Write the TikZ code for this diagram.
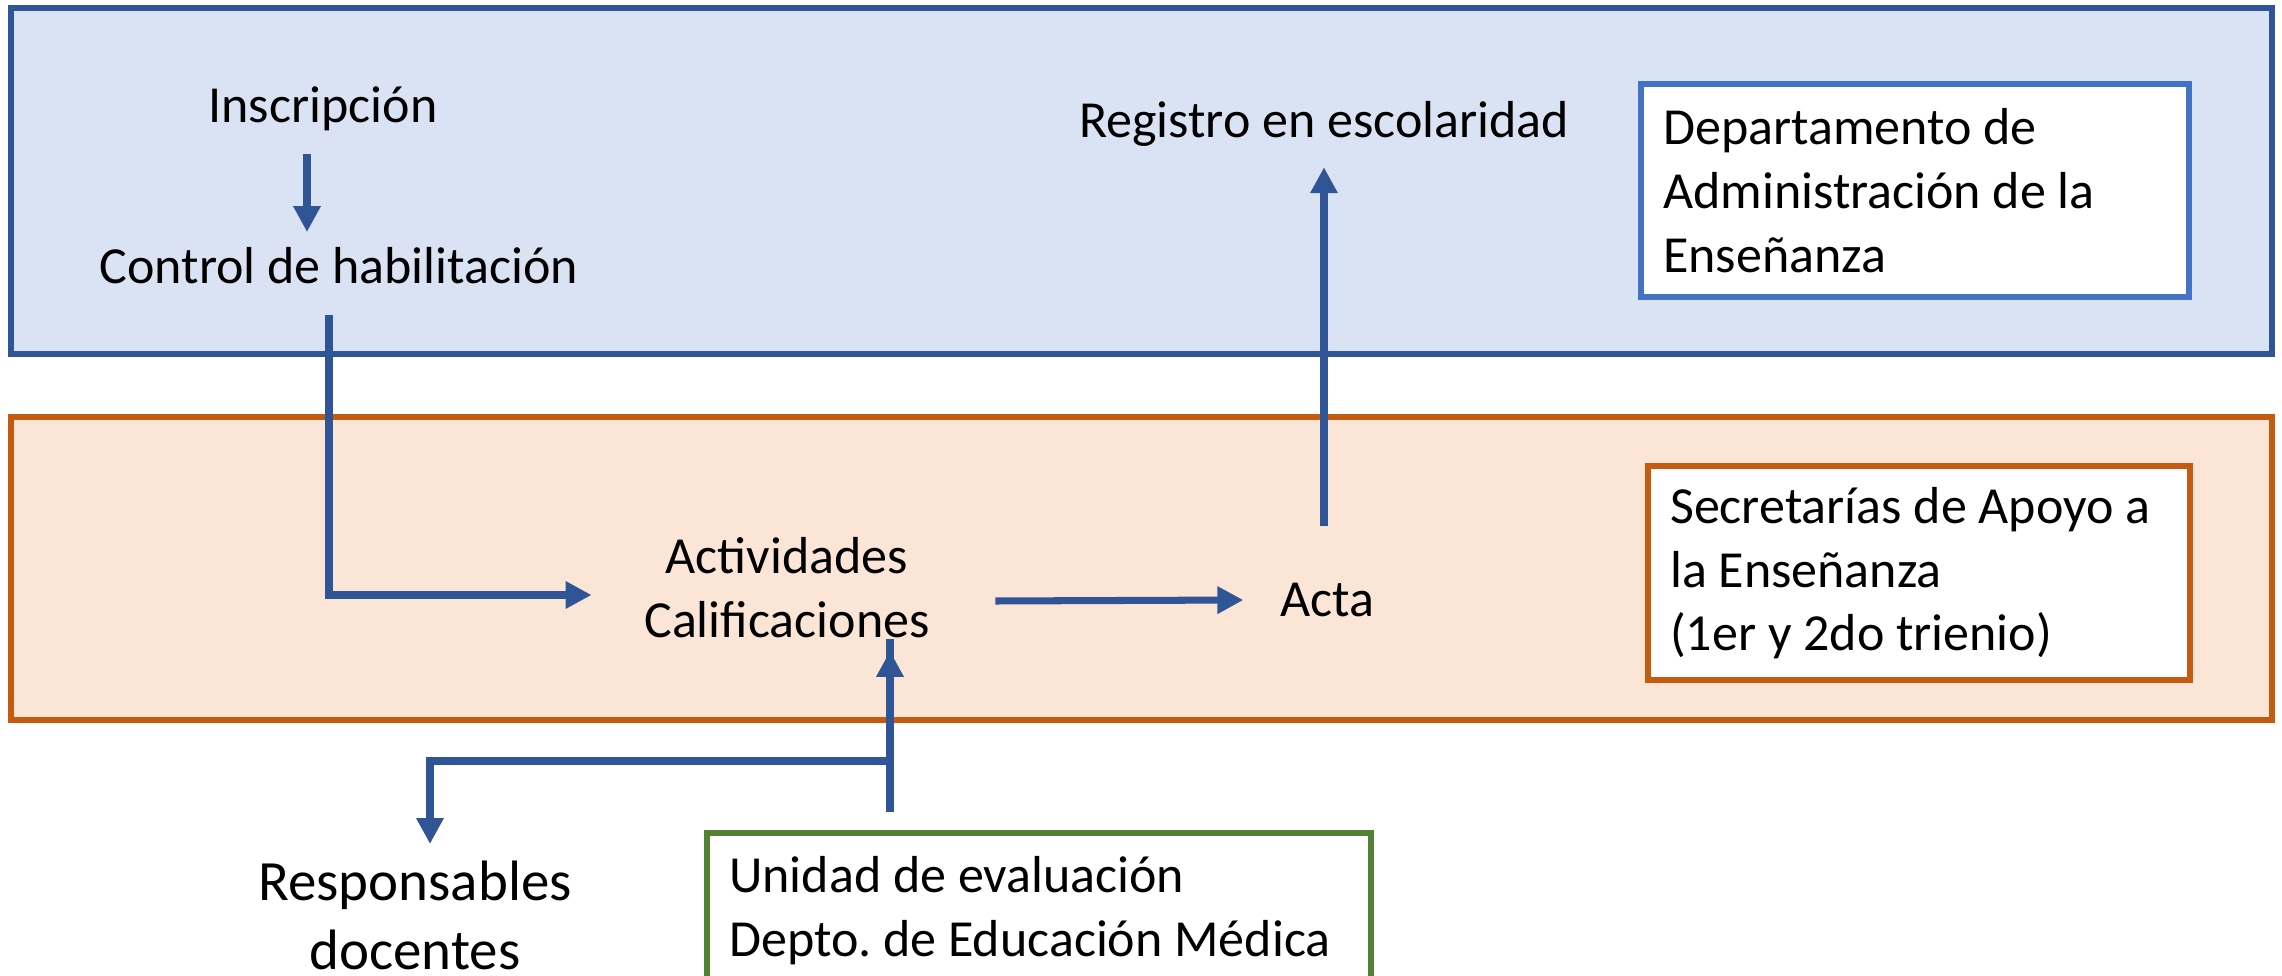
\documentclass[tikz,border=0pt]{standalone}
\usepackage{fontspec}
\setmainfont{Carlito}
\usetikzlibrary{arrows.meta}
\definecolor{azul}{HTML}{2F5597}
\definecolor{azulclaro}{HTML}{DAE3F3}
\definecolor{azulmedio}{HTML}{4472C4}
\definecolor{naranja}{HTML}{C55A11}
\definecolor{naranjaclaro}{HTML}{FBE5D6}
\definecolor{verde}{HTML}{548235}
\frenchspacing

\begin{document}
\begin{tikzpicture}[
  txt/.style={font=\fontsize{14.8}{18.2}\selectfont, align=center, inner sep=0},
  caja/.style={txt, draw, line width=1.8pt, fill=white, align=flush left, anchor=north west, inner xsep=2.2mm},
  flecha/.style={azul, line width=2pt, -{Triangle[length=2.6mm,width=2.6mm]}},
  linea/.style={azul, line width=2pt}
]
\useasboundingbox (0,0) rectangle (22.82,-9.76);
% franjas
\draw[azul, line width=1.9pt, fill=azulclaro] (0.11,-0.08) rectangle (22.72,-3.54);
\draw[naranja, line width=1.9pt, fill=naranjaclaro] (0.11,-4.17) rectangle (22.72,-7.20);
% recuadros
\node[caja, draw=azulmedio, minimum width=5.48cm, minimum height=2.13cm, text width=5.04cm] (dae) at (16.38,-0.81)
  {Departamento de\\Administración de la\\Enseñanza};
\node[caja, draw=naranja, minimum width=5.42cm, minimum height=2.14cm, text width=4.98cm] (sae) at (16.45,-4.63)
  {Secretarías de Apoyo a\\la Enseñanza\\(1er y 2do trienio)};
\node[caja, draw=verde, minimum width=6.64cm, minimum height=1.55cm, text width=6.20cm] (uev) at (7.04,-8.30)
  {Unidad de evaluación\\Depto. de Educación Médica};
% textos
\node[txt] (insc) at (3.23,-1.09) {Inscripción};
\node[txt] (ctrl) at (3.39,-2.66) {Control de habilitación};
\node[txt] (reg) at (13.24,-1.24) {Registro en escolaridad};
\node[txt] (act) at (7.87,-5.88) {Actividades\\Calificaciones};
\node[txt] (acta) at (13.27,-6.00) {Acta};
\node[txt, font=\fontsize{16.2}{19.6}\selectfont] (resp) at (4.15,-9.15) {Responsables\\docentes};
\coordinate (fork) at (8.90,-7.61);
\coordinate (bajada) at (4.30,-8.44);
% flechas
\draw[flecha] ([xshift=-1.6mm,yshift=-2.2mm]insc.south) -- ([xshift=-1.6mm,yshift=1.5mm]insc.south |- ctrl.north);
\draw[flecha] ([xshift=-1mm,yshift=-3mm]ctrl.south) |- ([xshift=-5.2mm,yshift=-0.7mm]act.west);
\draw[flecha] ([xshift=6.5mm,yshift=-1.3mm]act.east) -- ([xshift=-3.6mm,yshift=0mm]acta.west);
\draw[flecha] ([yshift=5.6mm]acta.north -| reg.south) -- ([yshift=-2mm]reg.south);
\draw[flecha] (fork |- uev.north) ++(0,0.18) -- (fork |- act.south) ++(0,-0.12);
\draw[flecha] (fork) -| (bajada);
\end{tikzpicture}
\end{document}
